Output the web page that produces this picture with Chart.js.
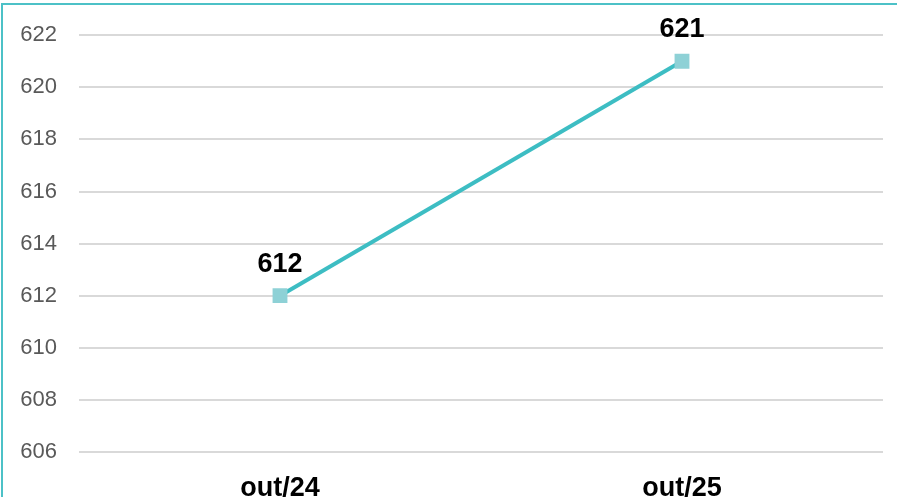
<!DOCTYPE html>
<html>
<head>
<meta charset="utf-8">
<script src="https://cdn.jsdelivr.net/npm/chart.js@4/dist/chart.umd.min.js"></script>
<style>
  html, body { margin: 0; padding: 0; background: #ffffff; overflow: hidden; width: 897px; height: 497px; }
  #frame { position: absolute; left: 1px; top: 3px; width: 920px; height: 520px; border: 2px solid #4cc1c7; box-sizing: border-box; }
  #wrap { position: absolute; left: 0; top: 0; width: 897px; height: 497px; }
</style>
</head>
<body>
<div id="frame"></div>
<div id="wrap"><canvas id="chart"></canvas></div>
<script>
// Monthly figures: October 2024 vs October 2025
const categories = ['out/24', 'out/25'];
const values = [612, 621];
const yTicks = [606, 608, 610, 612, 614, 616, 618, 620, 622];

// Writes each point's value above its marker
const valueLabels = {
  id: 'valueLabels',
  afterDatasetsDraw(chart) {
    const ctx = chart.ctx;
    const meta = chart.getDatasetMeta(0);
    const data = chart.data.datasets[0].data;
    ctx.save();
    ctx.font = 'bold 27px "Liberation Sans", Arial, sans-serif';
    ctx.fillStyle = '#000000';
    ctx.textAlign = 'center';
    ctx.textBaseline = 'alphabetic';
    meta.data.forEach((pt, i) => {
      ctx.fillText(String(data[i]), pt.x, pt.y - 24);
    });
    ctx.restore();
  }
};

new Chart(document.getElementById('chart'), {
  type: 'line',
  data: {
    labels: categories,
    datasets: [{
      data: values,
      borderColor: '#3dbdc3',
      borderWidth: 4,
      backgroundColor: '#8ed1d6',
      pointStyle: 'rect',
      pointRadius: 10.5,
      pointBorderWidth: 0,
      pointBackgroundColor: '#8ed1d6',
      tension: 0,
      fill: false
    }]
  },
  options: {
    responsive: true,
    maintainAspectRatio: false,
    animation: false,
    layout: { padding: { top: 34, right: 14, left: 0, bottom: 0 } },
    plugins: { legend: { display: false }, tooltip: { enabled: false } },
    scales: {
      x: {
        offset: true,
        grid: { display: false, drawTicks: false },
        border: { display: false },
        ticks: {
          padding: 20,
          color: '#000000',
          font: { family: '"Liberation Sans", Arial, sans-serif', size: 27, weight: 'bold' }
        },
        afterFit(scale) { scale.height = 45; }
      },
      y: {
        min: 606,
        max: 622,
        afterBuildTicks(scale) { scale.ticks = yTicks.map(v => ({ value: v })); },
        grid: { color: '#d9d9d9', lineWidth: 2, drawTicks: false },
        border: { display: false },
        ticks: {
          padding: 22,
          color: '#595959',
          font: { family: '"Liberation Sans", Arial, sans-serif', size: 22 }
        },
        afterFit(scale) { scale.width = 79; }
      }
    }
  },
  plugins: [valueLabels]
});
</script>
</body>
</html>
